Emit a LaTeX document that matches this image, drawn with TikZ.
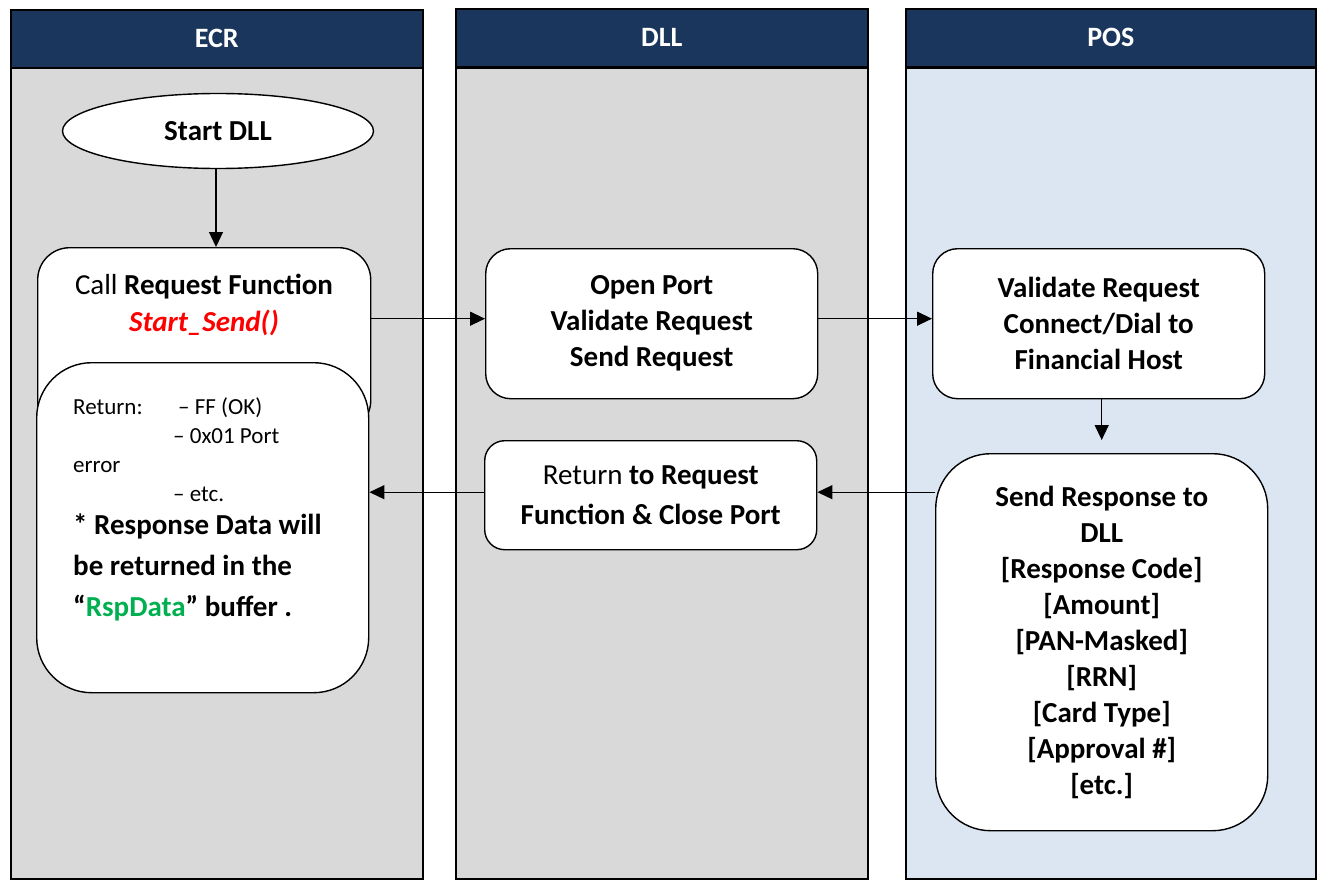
\documentclass[tikz,border=0pt]{standalone}
\usepackage{fontspec}
\setmainfont{Carlito}
\usetikzlibrary{arrows.meta,shapes.geometric}
\definecolor{navy}{HTML}{1A365D}
\definecolor{lanegray}{HTML}{D9D9D9}
\definecolor{laneblue}{HTML}{DCE6F2}
\definecolor{fnred}{HTML}{FF0000}
\definecolor{bufgreen}{HTML}{00B050}
\tikzset{
  lane/.style={draw=black, line width=1.6pt, anchor=north west, inner sep=0pt, minimum height=811pt},
  head/.style={draw=black, line width=1.6pt, fill=navy, text=white, anchor=north west,
    inner sep=0pt, minimum height=58pt, font=\fontsize{28}{34}\selectfont\bfseries},
  card/.style={draw=black, fill=white, line width=1.4pt, anchor=north west, inner sep=0pt, align=center},
  bigtext/.style={font=\fontsize{29}{36}\selectfont\bfseries},
  arr/.style={line width=1.3pt, -{Triangle[length=15pt,width=14pt]}},
}
\begin{document}
\begin{tikzpicture}[x=1pt,y=-1pt]
\useasboundingbox (0,0) rectangle (1317,880);

% swim lanes
\node[lane, fill=lanegray, minimum width=412pt] (ecrlane) at (10,67) {};
\node[lane, fill=lanegray, minimum width=412pt] (dlllane) at (455,67) {};
\node[lane, fill=laneblue, minimum width=410pt] (poslane) at (905,67) {};
\node[head, minimum width=412pt] (ecrhead) at (10,9) {ECR};
\node[head, minimum width=412pt] (dllhead) at (455,8) {DLL};
\node[head, minimum width=410pt] (poshead) at (905,8) {POS};

% ECR lane
\node[ellipse, draw=black, fill=white, line width=1.4pt, minimum width=311pt, minimum height=75pt,
  inner sep=0pt, bigtext] (start) at (218,131) {Start DLL};
\node[card, rounded corners=32pt, minimum width=333pt, minimum height=185pt] (callbox) at (37,247) {};
\node[align=center, font=\fontsize{29}{37}\selectfont] (calltext) at (204,305)
  {Call \textbf{Request Function}\\\textcolor{fnred}{\bfseries\itshape Start\_Send()}};
\node[card, rounded corners=55pt, minimum width=332pt, minimum height=330pt] (retbox) at (36,362) {};
\node[anchor=west, align=left, inner sep=0pt, font=\fontsize{23}{29}\selectfont] (retsmall) at (73,450)
  {\makebox[105pt][l]{Return:}– FF (OK)\\
   \hspace*{100pt}– 0x01 Port\\
   error\\
   \hspace*{100pt}– etc.};
\node[anchor=west, align=left, inner sep=0pt, font=\fontsize{29}{41}\selectfont\bfseries] (retbold) at (73,567)
  {* Response Data will\\
   be returned in the\\
   “\textcolor{bufgreen}{RspData}” buffer .};

% DLL lane
\node[card, rounded corners=25pt, minimum width=332pt, minimum height=150pt, bigtext] (openport) at (485,248)
  {Open Port\\Validate Request\\Send Request};
\node[card, rounded corners=20pt, minimum width=332pt, minimum height=109pt,
  font=\fontsize{29}{40}\selectfont] (retfn) at (484,440)
  {Return \textbf{to Request}\\\textbf{Function \& Close Port}};

% POS lane
\node[card, rounded corners=55pt, minimum width=332pt, minimum height=377pt, bigtext] (sendresp) at (935,453)
  {Send Response to\\DLL\\{}[Response Code]\\{}[Amount]\\{}[PAN-Masked]\\{}[RRN]\\{}[Card Type]\\{}[Approval \#]\\{}[etc.]};
\node[card, rounded corners=25pt, minimum width=332pt, minimum height=150pt, bigtext] (posval) at (932,248)
  {Validate Request\\Connect/Dial to\\Financial Host};

% connectors
\draw[arr] ([xshift=-2pt]start.south) -- ([xshift=-2pt]start.south |- callbox.north);
\draw[arr] ([yshift=5pt]openport.west -| callbox.east) -- ([yshift=5pt]openport.west);
\draw[arr] ([yshift=5pt]openport.east) -- ([yshift=5pt]posval.west);
\draw[arr] ([xshift=3pt]posval.south) -- ([yshift=13pt,xshift=3pt]sendresp.north -| posval.south);
\draw[arr] ([yshift=3pt]retfn.east -| sendresp.west) -- ([yshift=3pt]retfn.east);
\draw[arr] ([yshift=3pt]retfn.west) -- ([yshift=3pt]retfn.west -| retbox.east);
\end{tikzpicture}
\end{document}
